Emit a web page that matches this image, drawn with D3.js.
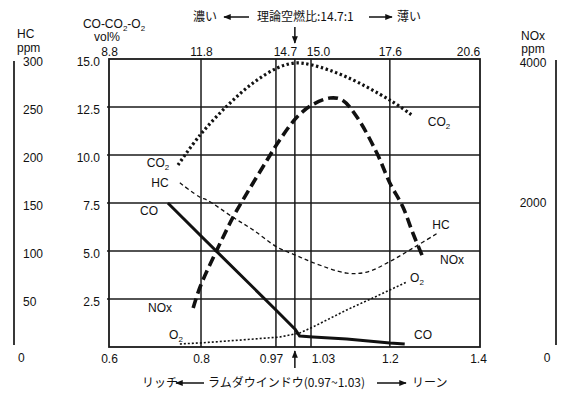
<!DOCTYPE html>
<html><head><meta charset="utf-8">
<script src="https://cdn.jsdelivr.net/npm/d3@7"></script>
<style>
html,body{margin:0;padding:0;background:#fff;}
svg{display:block;}
text{font-family:"Liberation Sans","Noto Sans CJK JP",sans-serif;fill:#111;}
.jp{font-family:"Noto Sans CJK JP",sans-serif;}
</style></head>
<body>
<svg id="chart" width="577" height="398"></svg>
<script>
// ---- data ----
const lambdaTicks = [0.6, 0.8, 0.97, 1.0, 1.03, 1.2, 1.4];
const lambdaLabels = ["0.6", "0.8", "0.97", "", "1.03", "1.2", "1.4"];
const afrLabels = ["8.8", "11.8", "", "14.7", "15.0", "17.6", "20.6"];
const volTicks = [0, 2.5, 5, 7.5, 10, 12.5, 15];
const volLabels = ["", "2.5", "5.0", "7.5", "10.0", "12.5", "15.0"];
const hcTicks = [0, 50, 100, 150, 200, 250, 300];
const noxTicks = [0, 2000, 4000];

const co2Lambda = [0.75, 0.798, 0.861, 0.918, 0.972, 1.0, 1.032, 1.107, 1.2, 1.249];
const co2Vol    = [9.48, 11.04, 12.6, 13.75, 14.53, 14.79, 14.69, 14.06, 12.86, 12.08];

const noxLambda = [0.783, 0.798, 0.836, 0.873, 0.895, 0.95, 0.976, 1.004, 1.032, 1.071, 1.097, 1.129, 1.172, 1.2, 1.229, 1.251, 1.273];
const noxPpm    = [542, 833, 1347, 1806, 2042, 2597, 2875, 3194, 3361, 3458, 3431, 3194, 2694, 2278, 1944, 1583, 1250];

const hcLambda = [0.754, 0.798, 0.814, 0.873, 0.918, 0.972, 1.0, 1.034, 1.107, 1.15, 1.2, 1.251, 1.304];
const hcPpm    = [171, 156, 153, 135, 122, 104, 96, 88, 77, 78, 89, 103, 118];

const coLambda = [0.728, 0.8, 0.97, 1.0, 1.009, 1.034, 1.107, 1.2, 1.233];
const coVol    = [7.5, 5.78, 1.93, 0.94, 0.57, 0.52, 0.42, 0.21, 0.16];

const o2Lambda = [0.754, 0.798, 0.888, 0.976, 1.009, 1.034, 1.107, 1.163, 1.2, 1.238];
const o2Vol    = [0.16, 0.21, 0.36, 0.52, 0.73, 1.04, 1.93, 2.55, 2.97, 3.39];

// ---- layout ----
const svg = d3.select("#chart");
const L = 109, R = 480, T = 59, B = 347;
const W = R - L;
const frac = [0, 0.248, 0.450, 0.501, 0.5445, 0.757, 1];
const x = d3.scaleLinear().domain(lambdaTicks).range(frac.map(f => L + f * W));
const yVol = d3.scaleLinear().domain([0, 15]).range([B, T]);
const yHC = d3.scaleLinear().domain([0, 300]).range([B, T]);
const yNOx = d3.scaleLinear().domain([0, 4000]).range([B, T]);

const defs = svg.append("defs");
function marker(id) {
  defs.append("marker").attr("id", id).attr("viewBox", "0 0 10 8")
    .attr("refX", 9).attr("refY", 4).attr("markerWidth", 8).attr("markerHeight", 6)
    .attr("markerUnits", "userSpaceOnUse").attr("orient", "auto")
    .append("path").attr("d", "M0,0 L10,4 L0,8 z").attr("fill", "#111");
}
marker("ah");

// grid
const g = svg.append("g");
g.selectAll("line.h").data(volTicks.slice(1, -1)).join("line")
  .attr("x1", L - 2).attr("x2", R).attr("y1", d => yVol(d)).attr("y2", d => yVol(d))
  .attr("stroke", "#1a1a1a").attr("stroke-width", 1.5);
g.selectAll("line.v").data(lambdaTicks.slice(1, -1)).join("line")
  .attr("x1", d => x(d)).attr("x2", d => x(d)).attr("y1", T).attr("y2", B)
  .attr("stroke", "#1a1a1a").attr("stroke-width", 1.5);
g.append("rect").attr("x", L).attr("y", T).attr("width", W).attr("height", B - T)
  .attr("fill", "none").attr("stroke", "#1a1a1a").attr("stroke-width", 1.8);

// bottom axis labels (d3 axis, restyled)
const labelShift = {"0.97": -5, "1.03": 12, "1.4": -2};
const axB = d3.axisBottom(x).tickValues(lambdaTicks).tickSize(0)
  .tickFormat((d, i) => lambdaLabels[i]);
const gB = svg.append("g").attr("transform", `translate(0,${B})`).call(axB);
gB.select(".domain").remove();
gB.selectAll("text").attr("font-size", 12).attr("dy", "0.45em").attr("y", 11)
  .attr("dx", function() { return labelShift[this.textContent] || 0; })
  .style("font-family", "Liberation Sans, sans-serif").attr("fill", "#111");

// top axis labels
const topShift = {"14.7": -10, "15.0": 7, "20.6": -12};
const axT = d3.axisTop(x).tickValues(lambdaTicks).tickSize(0)
  .tickFormat((d, i) => afrLabels[i]);
const gT = svg.append("g").attr("transform", `translate(0,${T})`).call(axT);
gT.select(".domain").remove();
gT.selectAll("text").attr("font-size", 12).attr("y", -3).attr("dy", 0)
  .attr("dx", function() { return topShift[this.textContent] || 0; })
  .style("font-family", "Liberation Sans, sans-serif").attr("fill", "#111");

// left vol axis labels
const axV = d3.axisLeft(yVol).tickValues(volTicks).tickSize(0)
  .tickFormat((d, i) => volLabels[i]);
const gV = svg.append("g").attr("transform", `translate(${L - 9},3)`).call(axV);
gV.select(".domain").remove();
gV.selectAll("text").attr("font-size", 12).attr("x", 0)
  .style("font-family", "Liberation Sans, sans-serif").attr("fill", "#111");

// HC axis (far left)
svg.append("line").attr("x1", 14).attr("x2", 14).attr("y1", 61).attr("y2", 345)
  .attr("stroke", "#222").attr("stroke-width", 1.8);
svg.selectAll("text.hc").data(hcTicks).join("text").attr("class", "hc")
  .attr("x", d => d === 0 ? 18 : 23).attr("y", d => d === 0 ? 358 : yHC(d) + 3)
  .attr("dy", "0.35em").attr("font-size", 12).text(d => d);

// NOx axis (far right)
svg.append("line").attr("x1", 556).attr("x2", 556).attr("y1", 60).attr("y2", 345)
  .attr("stroke", "#222").attr("stroke-width", 1.8);
svg.selectAll("text.nox").data(noxTicks).join("text").attr("class", "nox")
  .attr("x", d => d === 0 ? 547 : 533).attr("y", d => d === 0 ? 358 : (d === 4000 ? 63 : yNOx(d)))
  .attr("text-anchor", "middle").attr("dy", "0.35em").attr("font-size", 12).text(d => d);

// axis titles
function t(xp, yp, s, anchor, size) {
  return svg.append("text").attr("x", xp).attr("y", yp).attr("dy", "0.35em")
    .attr("text-anchor", anchor || "start").attr("font-size", size || 12).text(s);
}
t(17, 34, "HC"); t(17, 48, "ppm");
t(533, 36, "NOx", "middle"); t(533, 49, "ppm", "middle");
const cot = svg.append("text").attr("x", 114).attr("y", 24).attr("dy", "0.35em")
  .attr("text-anchor", "middle").attr("font-size", 12);
cot.append("tspan").text("CO-CO");
cot.append("tspan").attr("font-size", 8).attr("dy", 3).text("2");
cot.append("tspan").attr("dy", -3).text("-O");
cot.append("tspan").attr("font-size", 8).attr("dy", 3).text("2");
t(107, 37, "vol%", "middle");

// top annotation
const jp = (xp, yp, s, anchor) => t(xp, yp, s, anchor, 12).attr("class", "jp");
jp(193, 17, "濃い");
jp(257, 17, "理論空燃比:14.7:1");
jp(397, 17, "薄い");
const arrow = (x1, y1, x2, y2) => svg.append("line").attr("x1", x1).attr("y1", y1)
  .attr("x2", x2).attr("y2", y2).attr("stroke", "#111").attr("stroke-width", 1.5)
  .attr("marker-end", "url(#ah)");
arrow(249, 17, 224, 17);
arrow(369, 17, 392, 17);
arrow(x(1.0), 27, x(1.0), 43);

// bottom annotation
arrow(x(1.0), 368, x(1.0), 351);
jp(142, 383, "リッチ");
arrow(204, 383, 176, 383);
jp(208, 383, "ラムダウインドウ(0.97~1.03)");
arrow(377, 383, 406, 383);
jp(412, 383, "リーン");

// ---- series ----
const series = [
  {lam: co2Lambda, val: co2Vol, y: yVol, w: 3.2, dash: "2.4,2.6", curve: d3.curveCatmullRom},
  {lam: noxLambda, val: noxPpm, y: yNOx, w: 3.6, dash: "10,5", curve: d3.curveCatmullRom},
  {lam: hcLambda, val: hcPpm, y: yHC, w: 1.3, dash: "4,3", curve: d3.curveCatmullRom},
  {lam: coLambda, val: coVol, y: yVol, w: 3, dash: null, curve: d3.curveLinear},
  {lam: o2Lambda, val: o2Vol, y: yVol, w: 1.6, dash: "2,2", curve: d3.curveLinear}
];
series.forEach(s => {
  const pts = s.lam.map((l, i) => [x(l), s.y(s.val[i])]);
  svg.append("path").attr("d", d3.line().curve(s.curve)(pts))
    .attr("fill", "none").attr("stroke", "#111").attr("stroke-width", s.w)
    .attr("stroke-dasharray", s.dash).attr("stroke-linejoin", "round");
});

// series labels
function lab(xp, yp, base, sub) {
  const e = svg.append("text").attr("x", xp).attr("y", yp).attr("dy", "0.35em")
    .attr("text-anchor", "middle").attr("font-size", 12);
  e.append("tspan").text(base);
  if (sub) e.append("tspan").attr("font-size", 8).attr("dy", 3).text(sub);
}
lab(158, 163, "CO", "2");
lab(160, 183, "HC");
lab(149, 211, "CO");
lab(160, 308, "NOx");
lab(176, 335, "O", "2");
lab(439, 122, "CO", "2");
lab(441, 225, "HC");
lab(452, 260, "NOx");
lab(417, 278, "O", "2");
lab(423, 335, "CO");
</script>
</body></html>
